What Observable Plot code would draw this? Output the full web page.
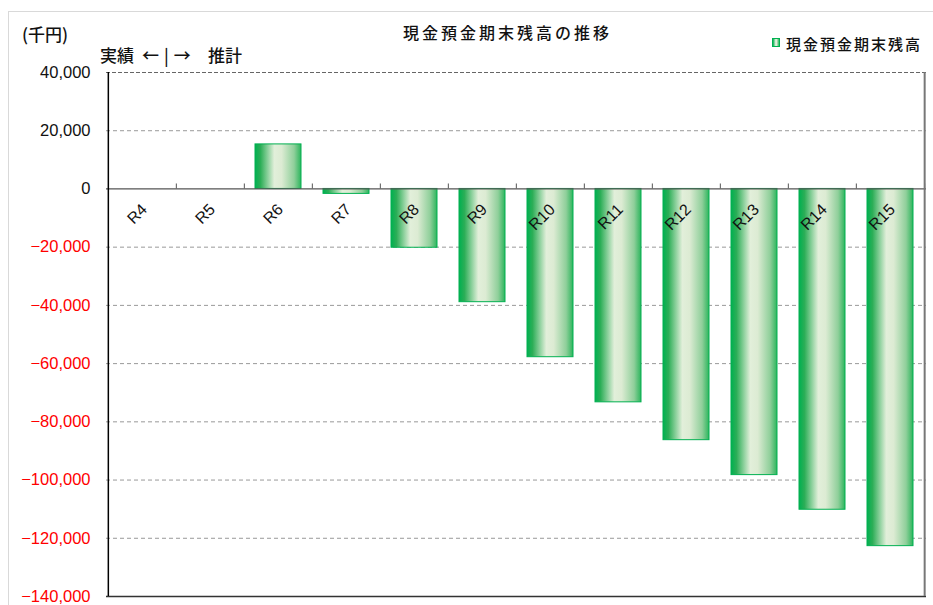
<!DOCTYPE html>
<html><head><meta charset="utf-8">
<script src="https://cdn.jsdelivr.net/npm/d3@7"></script>
<script src="https://cdn.jsdelivr.net/npm/@observablehq/plot@0.6"></script>
<style>
body{margin:0;background:#fff;}
#wrap{position:relative;width:933px;height:605px;overflow:hidden;font-family:"Noto Sans CJK JP",sans-serif;background:#fff;}
#border{position:absolute;left:8px;top:11px;width:1000px;height:700px;border:1px solid #d9d9d9;}
.t{position:absolute;white-space:nowrap;color:#111;line-height:1;font-weight:500;}
#swatch{position:absolute;left:772px;top:38px;width:6px;height:7px;border:1px solid #00b050;
 background:linear-gradient(to right,#00b050 0%,#e2efda 45%,#dfedd6 60%,#2db55d 100%);}
#chart{position:absolute;left:0;top:0;}
</style></head><body>
<div id="wrap">
 <div id="border"></div>
 <div id="chart"></div>
 <div class="t" style="left:22px;top:25px;font-size:17px;">(千円)</div>
 <div class="t" style="left:100px;top:46px;font-size:17px;">実績</div>
 <div class="t" style="left:142px;top:46px;font-size:17px;letter-spacing:5px;">←|→</div>
 <div class="t" style="left:208px;top:46px;font-size:17px;">推計</div>
 <div class="t" style="left:403px;top:24px;font-size:16px;letter-spacing:3px;">現金預金期末残高の推移</div>
 <div id="swatch"></div>
 <div class="t" style="left:786px;top:36px;font-size:15px;letter-spacing:2px;">現金預金期末残高</div>
</div>
<script>
const categories = ["R4","R5","R6","R7","R8","R9","R10","R11","R12","R13","R14","R15"];
const balances = [null, null, 15300, -1700, -20200, -38900, -57800, -73300, -86300, -98300, -110200, -122700];
const yTicks = [40000, 20000, 0, -20000, -40000, -60000, -80000, -100000, -120000, -140000];

const rows = categories.map((c, i) => ({cat: c, value: balances[i]})).filter(d => d.value != null);

const W = 933, H = 605, mL = 106, mR = 7, mT = 72, mB = 9;
const step = (W - mL - mR) / categories.length;
const fmt = d3.format(",");

const plot = Plot.plot({
  width: W, height: H,
  marginLeft: mL, marginRight: mR, marginTop: mT, marginBottom: mB,
  style: {fontFamily: "'Liberation Sans', Arial, sans-serif", fontSize: "16px", background: "transparent", overflow: "visible"},
  x: {domain: categories, paddingInner: 0.32, paddingOuter: 0.16, axis: null},
  y: {domain: [-140000, 40000], axis: null},
  marks: [
    Plot.ruleY(yTicks.filter(d => d !== 0 && d !== -140000 && d !== 40000), {stroke: "#999", strokeDasharray: "4,3"}),
    Plot.ruleY([40000], {stroke: "#666", strokeDasharray: "4,2"}),
    Plot.barY(rows, {x: "cat", y: "value", fill: "url(#barGrad)", stroke: "#00b050", strokeWidth: 1}),
    Plot.ruleY([0], {stroke: "#555", strokeWidth: 1.3}),
    Plot.ruleX(categories.slice(1), {x: d => d, y1: () => 0, y2: () => 1700, dx: -step / 2, stroke: "#555"}),
    Plot.ruleX([categories[categories.length - 1]], {x: d => d, y1: () => 0, y2: () => 1700, dx: step / 2, stroke: "#555"}),
    Plot.ruleY([-140000], {stroke: "#333", strokeWidth: 1.3}),
    Plot.ruleX([categories[0]], {x: d => d, dx: -step / 2, stroke: "#000", strokeWidth: 1.5}),
    Plot.ruleX([categories[categories.length - 1]], {x: d => d, dx: step / 2, stroke: "#777", strokeWidth: 2}),
    Plot.text(yTicks.filter(d => d >= 0), {y: d => d, frameAnchor: "left", dx: -16, textAnchor: "end", text: d => fmt(d), fill: "#111", fontSize: 16.5}),
    Plot.text(yTicks.filter(d => d < 0), {y: d => d, frameAnchor: "left", dx: -16, textAnchor: "end", text: d => fmt(d), fill: "#ff0000", fontSize: 16.5}),
    Plot.text(categories, {x: d => d, y: () => 0, text: d => d, rotate: -45, textAnchor: "end", lineAnchor: "middle", dx: 2, dy: 18, fontSize: 16, fill: "#111"})
  ]
});

d3.select(plot).insert("defs", ":first-child").html(
  `<linearGradient id="barGrad" x1="0" x2="1" y1="0" y2="0">
     <stop offset="0" stop-color="#00b050"/>
     <stop offset="0.12" stop-color="#2cae57"/>
     <stop offset="0.42" stop-color="#e2efda"/>
     <stop offset="0.58" stop-color="#dcebd3"/>
     <stop offset="0.85" stop-color="#8fcf9a"/>
     <stop offset="1" stop-color="#2db55d"/>
   </linearGradient>`);

document.getElementById("chart").appendChild(plot);
</script>
</body></html>
